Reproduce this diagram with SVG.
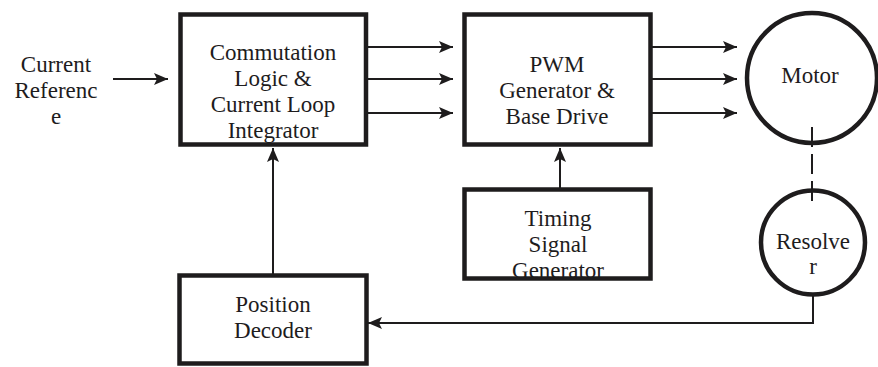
<svg xmlns="http://www.w3.org/2000/svg" width="878" height="367" viewBox="0 0 878 367">
<style>
.box{fill:none;stroke:#1e1c1d;stroke-width:4.5}
.bg{fill:#fff}
.ln{fill:none;stroke:#1e1c1d;stroke-width:2}
.t{font-family:"Liberation Serif","Times New Roman",serif;font-size:23px;fill:#1e1c1d;text-anchor:middle}
</style>
<defs>
<marker id="ah" markerUnits="userSpaceOnUse" markerWidth="14" markerHeight="12" refX="14" refY="6" orient="auto">
<path d="M0,0 L14,6 L0,12 L3,6 Z" fill="#1e1c1d"/>
</marker>
</defs>
<rect width="878" height="367" fill="#fff"/>
<g id="connectors">
<line class="ln" x1="113" y1="79" x2="168" y2="79" marker-end="url(#ah)"/>
<line class="ln" x1="368" y1="47" x2="453" y2="47" marker-end="url(#ah)"/>
<line class="ln" x1="368" y1="79" x2="453" y2="79" marker-end="url(#ah)"/>
<line class="ln" x1="368" y1="113" x2="453" y2="113" marker-end="url(#ah)"/>
<line class="ln" x1="652" y1="47" x2="737" y2="47" marker-end="url(#ah)"/>
<line class="ln" x1="652" y1="79" x2="737" y2="79" marker-end="url(#ah)"/>
<line class="ln" x1="652" y1="113" x2="737" y2="113" marker-end="url(#ah)"/>
<line class="ln" x1="273" y1="274" x2="273" y2="148" marker-end="url(#ah)"/>
<line class="ln" x1="560" y1="188" x2="560" y2="148" marker-end="url(#ah)"/>
<polyline class="ln" points="813,295 813,323 368,323" marker-end="url(#ah)"/>
<line class="ln" x1="812" y1="127" x2="812" y2="202" stroke-dasharray="20 7"/>
</g>
<g id="current-reference">
<text class="t" x="56" y="72">Current</text>
<text class="t" x="56" y="98">Referenc</text>
<text class="t" x="56" y="124">e</text>
</g>
<g id="commutation">
<rect class="box" x="180.5" y="14.5" width="185.5" height="130"/>
<text class="t" x="273" y="60">Commutation</text>
<text class="t" x="273" y="86">Logic &amp;</text>
<text class="t" x="273" y="112">Current Loop</text>
<text class="t" x="273" y="138">Integrator</text>
</g>
<g id="pwm">
<rect class="box" x="464.5" y="14.5" width="186" height="130"/>
<text class="t" x="557" y="72">PWM</text>
<text class="t" x="557" y="98">Generator &amp;</text>
<text class="t" x="557" y="124">Base Drive</text>
</g>
<g id="motor">
<circle class="box" cx="812" cy="78" r="65"/>
<text class="t" x="810" y="83">Motor</text>
</g>
<g id="timing">
<text class="t" x="558" y="226">Timing</text>
<text class="t" x="558" y="252">Signal</text>
<text class="t" x="558" y="278">Generator</text>
<rect class="box" x="464.5" y="189.5" width="186" height="89"/>
</g>
<g id="resolver">
<circle class="box" cx="813" cy="242.5" r="52"/>
<text class="t" x="813" y="249">Resolve</text>
<text class="t" x="813" y="274">r</text>
</g>
<g id="position-decoder">
<rect class="box" x="179.5" y="275.5" width="187" height="88"/>
<text class="t" x="273" y="312">Position</text>
<text class="t" x="273" y="338">Decoder</text>
</g>
</svg>
